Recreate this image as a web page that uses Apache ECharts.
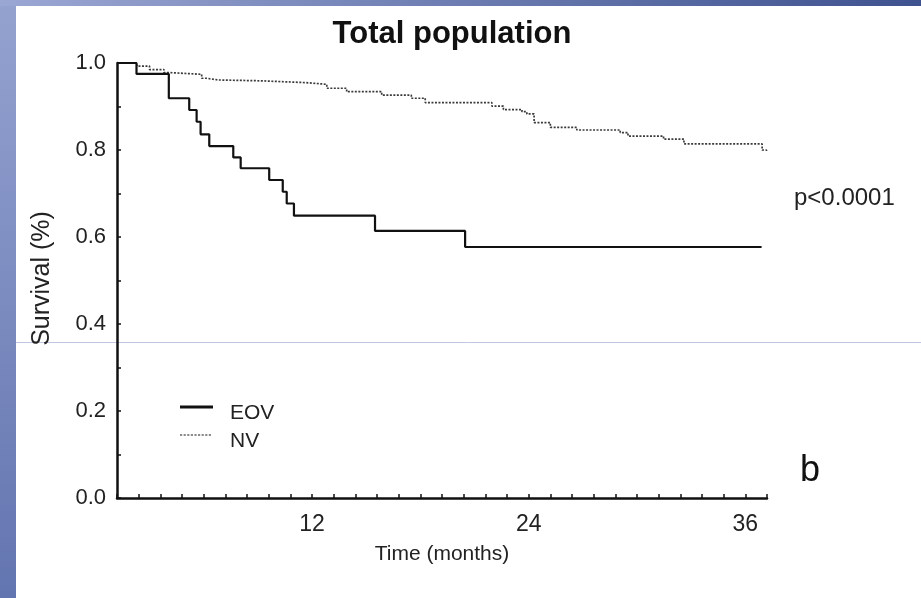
<!DOCTYPE html>
<html>
<head>
<meta charset="utf-8">
<script src="https://cdn.jsdelivr.net/npm/echarts@6/dist/echarts.min.js"></script>
<style>
  html, body { margin: 0; padding: 0; background: #ffffff; }
  #chart { width: 921px; height: 598px; }
</style>
</head>
<body>
<div id="chart"></div>
<script>
// Kaplan–Meier survival, total population (time in months)
const eovTime = [1.2, 2.28, 4.07, 5.2, 5.61, 5.83, 6.31, 7.64, 8.05, 9.63, 10.38, 10.6, 11.0, 15.49, 20.48, 36.9];
const eovSurv = [1.0, 0.975, 0.919, 0.892, 0.865, 0.836, 0.809, 0.783, 0.758, 0.731, 0.704, 0.677, 0.649, 0.614, 0.577, 0.577];

const nvTime = [1.2, 2.3, 3.0, 3.8, 4.1, 5.89, 6.16, 6.81, 9.21, 11.61, 12.82, 13.92, 15.86, 17.5, 18.27,
                21.96, 22.6, 23.63, 23.9, 24.3, 25.2, 26.67, 29.07, 29.5, 31.47, 32.6, 36.93, 37.17];
const nvSurv = [1.0, 0.993, 0.985, 0.978, 0.974, 0.965, 0.961, 0.959, 0.955, 0.951, 0.942, 0.934, 0.926, 0.919, 0.909,
                0.901, 0.893, 0.888, 0.883, 0.863, 0.852, 0.846, 0.840, 0.832, 0.825, 0.814, 0.800, 0.795];

const xTickLabels = [12, 24, 36];
const yTickLabels = [0.0, 0.2, 0.4, 0.6, 0.8, 1.0];

const FONT = '"Liberation Sans", Arial, Helvetica, sans-serif';

// Legend keys: the leading moveTo points pin the icon box to 33x28,
// so the key line sits in the upper part of each legend row.
const KEY_SOLID = 'path://M0,0M33,28M0,6h33v3h-33z';
const KEY_DOTTED = 'path://M0,0M33,28' +
  'M0,6.8h2.2v1.4h-2.2zM3.6,6.8h2.2v1.4h-2.2zM7.2,6.8h2.2v1.4h-2.2zM10.8,6.8h2.2v1.4h-2.2z' +
  'M14.4,6.8h2.2v1.4h-2.2zM18,6.8h2.2v1.4h-2.2zM21.6,6.8h2.2v1.4h-2.2zM25.2,6.8h2.2v1.4h-2.2z' +
  'M28.8,6.8h2.2v1.4h-2.2z';

function pairs(t, s) { return t.map((v, i) => [v, s[i]]); }
function near(list, v) { return list.some(x => Math.abs(x - v) < 1e-6); }

const chart = echarts.init(document.getElementById('chart'), null, { renderer: 'canvas' });

chart.setOption({
  animation: false,
  backgroundColor: '#ffffff',
  textStyle: { fontFamily: FONT },
  title: {
    text: 'Total population',
    left: 447, top: 14, textAlign: 'center',
    textStyle: { fontFamily: FONT, fontWeight: 'bold', fontSize: 31, color: '#111' }
  },
  grid: { left: 117, right: 154, top: 63, bottom: 100, containLabel: false },
  legend: {
    orient: 'vertical', left: 175, top: 394.5,
    itemWidth: 33, itemHeight: 28, itemGap: 0,
    selectedMode: false,
    textStyle: { fontFamily: FONT, fontSize: 21, color: '#222', padding: [4, 0, 0, 12] },
    data: [
      { name: 'EOV', icon: KEY_SOLID, itemStyle: { color: '#111' } },
      { name: 'NV', icon: KEY_DOTTED, itemStyle: { color: '#666' } }
    ]
  },
  xAxis: {
    type: 'value', min: 1.2, max: 37.2, interval: 1.2,
    name: 'Time (months)', nameLocation: 'middle', nameGap: 46,
    nameTextStyle: { fontFamily: FONT, fontSize: 21, color: '#222' },
    axisLine: { show: true, lineStyle: { color: '#111', width: 2.5 } },
    axisTick: { show: true, inside: true, length: 4, lineStyle: { color: '#111', width: 1.5 } },
    axisLabel: {
      fontFamily: FONT, fontSize: 23, color: '#222', margin: 15,
      formatter: v => near(xTickLabels, v) ? String(Math.round(v)) : ''
    },
    splitLine: { show: false }
  },
  yAxis: {
    type: 'value', min: 0, max: 1, interval: 0.1,
    name: 'Survival (%)', nameLocation: 'middle', nameGap: 62, nameRotate: 90,
    nameTextStyle: { fontFamily: FONT, fontSize: 25, color: '#222', padding: [0, 0, 0, 4] },
    axisLine: { show: true, lineStyle: { color: '#111', width: 2.5 } },
    axisTick: { show: true, inside: true, length: 4, lineStyle: { color: '#111', width: 1.5 } },
    axisLabel: {
      fontFamily: FONT, fontSize: 22, color: '#222', margin: 11,
      formatter: v => near(yTickLabels, v) ? v.toFixed(1) : ''
    },
    splitLine: { show: false }
  },
  series: [
    {
      name: 'EOV', type: 'line', step: 'end', symbol: 'none', z: 3,
      lineStyle: { color: '#111', width: 2.2 },
      data: pairs(eovTime, eovSurv)
    },
    {
      name: 'NV', type: 'line', step: 'end', symbol: 'none', z: 2,
      itemStyle: { color: '#555' },
      lineStyle: { color: '#3a3a3a', width: 1.7, type: [2, 1.5] },
      data: pairs(nvTime, nvSurv)
    }
  ],
  graphic: [
    {
      type: 'rect', z: -10, silent: true,
      shape: { x: 0, y: 0, width: 16, height: 598 },
      style: { fill: new echarts.graphic.LinearGradient(0, 0, 0, 1, [
        { offset: 0, color: '#94a2cf' }, { offset: 1, color: '#6375b0' }
      ]) }
    },
    {
      type: 'rect', z: -9, silent: true,
      shape: { x: 0, y: 0, width: 921, height: 6 },
      style: { fill: new echarts.graphic.LinearGradient(0, 0, 1, 0, [
        { offset: 0, color: '#9ba7d3' }, { offset: 1, color: '#3e528f' }
      ]) }
    },
    {
      type: 'line', z: -8, silent: true,
      shape: { x1: 16, y1: 342.5, x2: 921, y2: 342.5 },
      style: { stroke: '#bfc7e3', lineWidth: 1 }
    },
    {
      type: 'text', left: 794, top: 186, silent: true,
      style: { text: 'p<0.0001', font: '24px ' + FONT, fill: '#222' }
    },
    {
      type: 'text', left: 800, top: 453, silent: true,
      style: { text: 'b', font: '36px ' + FONT, fill: '#111' }
    }
  ]
});
</script>
</body>
</html>
